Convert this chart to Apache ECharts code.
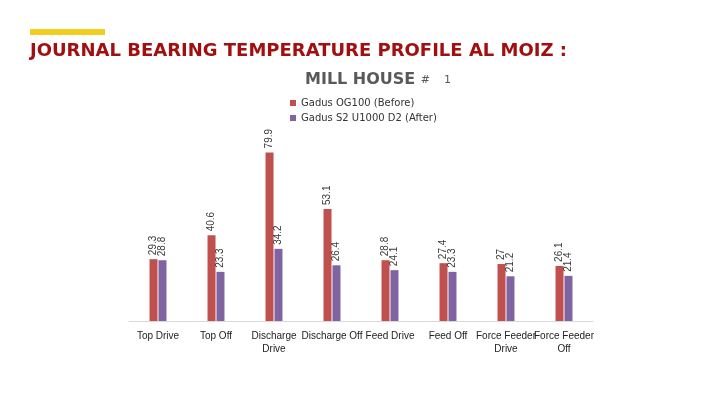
<!DOCTYPE html>
<html><head><meta charset="utf-8">
<script src="https://cdn.jsdelivr.net/npm/echarts@6/dist/echarts.min.js"></script>
<style>html,body{margin:0;padding:0;background:#fff}#c{width:720px;height:405px}</style>
</head><body><div id="c"></div>
<script>
var categories = ['Top Drive', 'Top Off', 'Discharge\nDrive', 'Discharge Off', 'Feed Drive', 'Feed Off', 'Force Feeder\nDrive', 'Force Feeder\nOff'];
var before = [29.3, 40.6, 79.9, 53.1, 28.8, 27.4, 27, 26.1];
var after = [28.8, 23.3, 34.2, 26.4, 24.1, 23.3, 21.2, 21.4];
var seriesNames = ['Gadus OG100 (Before)', 'Gadus S2 U1000 D2 (After)'];

var chart = echarts.init(document.getElementById('c'));
var lbl = {show: true, position: 'top', rotate: 90, align: 'left', verticalAlign: 'middle', distance: 4,
  fontSize: 10, color: '#3a3a3a', fontFamily: 'Liberation Sans'};
chart.setOption({
  animation: false,
  graphic: [{type: 'rect', shape: {x: 30, y: 29, width: 75, height: 6}, style: {fill: '#F2CF1F'}}],
  title: [
    {text: 'JOURNAL BEARING TEMPERATURE PROFILE AL MOIZ :', left: 25, top: 37,
     textStyle: {fontSize: 18, fontWeight: 'bold', color: '#A20F10', fontFamily: 'DejaVu Sans'}},
    {text: 'MILL HOUSE {s|#    1}', left: 300, top: 67,
     textStyle: {fontSize: 16, fontWeight: 'bold', color: '#595959', fontFamily: 'DejaVu Sans',
       rich: {s: {fontSize: 11, color: '#595959', fontWeight: 'normal', fontFamily: 'DejaVu Sans'}}}}
  ],
  legend: {orient: 'vertical', left: 285, top: 93, itemWidth: 6, itemHeight: 6, itemGap: 5,
    icon: 'rect', textStyle: {fontSize: 10, color: '#333', fontFamily: 'DejaVu Sans'}, data: seriesNames},
  grid: {left: 129, right: 127, top: 110, bottom: 84},
  xAxis: {type: 'category', data: categories,
    axisLine: {lineStyle: {color: '#D9D9D9'}}, axisTick: {show: false},
    axisLabel: {interval: 0, fontSize: 10, color: '#222', lineHeight: 13, margin: 9, fontFamily: 'Liberation Sans'}},
  yAxis: {type: 'value', min: 0, max: 100, show: false, splitLine: {show: false}},
  series: [
    {name: seriesNames[0], type: 'bar', data: before, barWidth: 8, barGap: '12%', itemStyle: {color: '#C0504D'}, label: lbl},
    {name: seriesNames[1], type: 'bar', data: after, barWidth: 8, itemStyle: {color: '#8064A2'}, label: lbl}
  ]
});
</script></body></html>
